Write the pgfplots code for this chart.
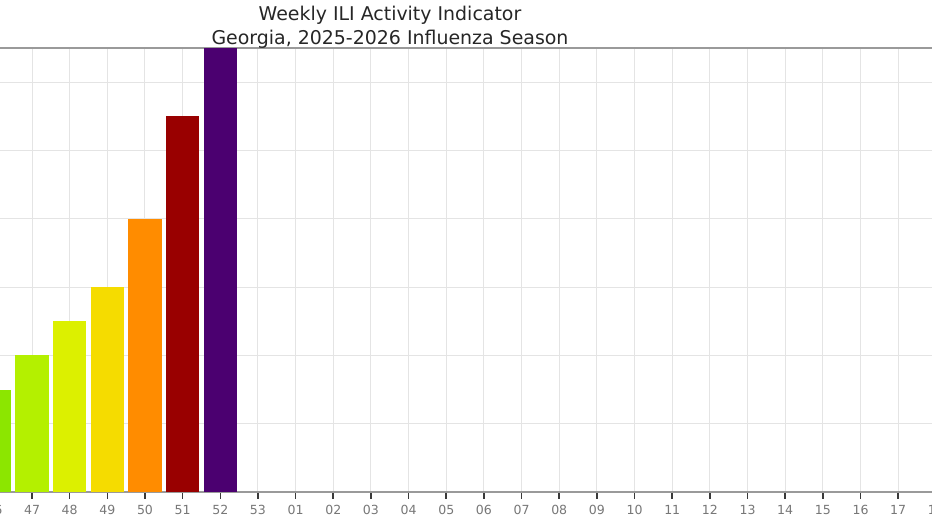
\documentclass[border=0pt]{standalone}
\usepackage{pgfplots}
\pgfplotsset{compat=1.18}
\usepackage{fontspec}
\setmainfont{DejaVu Sans}
\definecolor{c46}{HTML}{8CE600}
\definecolor{c47}{HTML}{B4F000}
\definecolor{c48}{HTML}{DCF000}
\definecolor{c49}{HTML}{F5DC00}
\definecolor{c50}{HTML}{FF8C00}
\definecolor{c51}{HTML}{990000}
\definecolor{c52}{HTML}{4B0070}
\definecolor{gridc}{HTML}{E4E4E4}
\definecolor{axc}{HTML}{9A9A9A}
\definecolor{tickc}{HTML}{3A3A3A}
\definecolor{labc}{HTML}{777777}
\begin{document}
\begin{tikzpicture}
\path[use as bounding box, clip] (0,-24pt) rectangle (699pt,369pt);
\begin{axis}[
  at={(0,0)}, anchor=south west,
  scale only axis, width=699pt, height=333pt,
  xmin=0.150, xmax=24.898, ymin=0, ymax=13,
  separate axis lines,
  x axis line style={axc, line width=1.5pt},
  y axis line style={draw=none},
  xtick={0,...,25},
  xticklabels={46,47,48,49,50,51,52,53,01,02,03,04,05,06,07,08,09,10,11,12,13,14,15,16,17,18},
  xtick pos=lower, xtick align=outside,
  major tick length=5pt,
  x tick style={tickc, line width=1.2pt},
  ytick={2,4,6,8,10,12}, yticklabels={},
  y tick style={draw=none},
  xmajorgrids, ymajorgrids,
  major grid style={gridc, line width=0.75pt},
  tick label style={font=\fontsize{9.4}{11}\selectfont, text=labc},
  /pgf/number format/assume math mode=true,
  xticklabel style={yshift=-1.5pt},
  ybar, bar width=0.88, bar shift=0pt,
  clip=false,
]
\addplot[fill=c46, draw=none] coordinates {(0,3)};
\addplot[fill=c47, draw=none] coordinates {(1,4)};
\addplot[fill=c48, draw=none] coordinates {(2,5)};
\addplot[fill=c49, draw=none] coordinates {(3,6)};
\addplot[fill=c50, draw=none] coordinates {(4,8)};
\addplot[fill=c51, draw=none] coordinates {(5,11)};
\addplot[fill=c52, draw=none] coordinates {(6,13)};
\node[font=\fontsize{9.4}{11}\selectfont, text=labc] at ([yshift=-13.3pt]axis cs:0,0) {46};
\node[font=\fontsize{9.4}{11}\selectfont, text=labc] at ([yshift=-13.3pt]axis cs:25,0) {18};
\end{axis}
\node[align=center, font=\fontsize{14.2}{18}\selectfont, text={black!85}] at (292.5pt,348.5pt) {Weekly ILI Activity Indicator\\Georgia, 2025-2026 Influenza Season};
\end{tikzpicture}
\end{document}
